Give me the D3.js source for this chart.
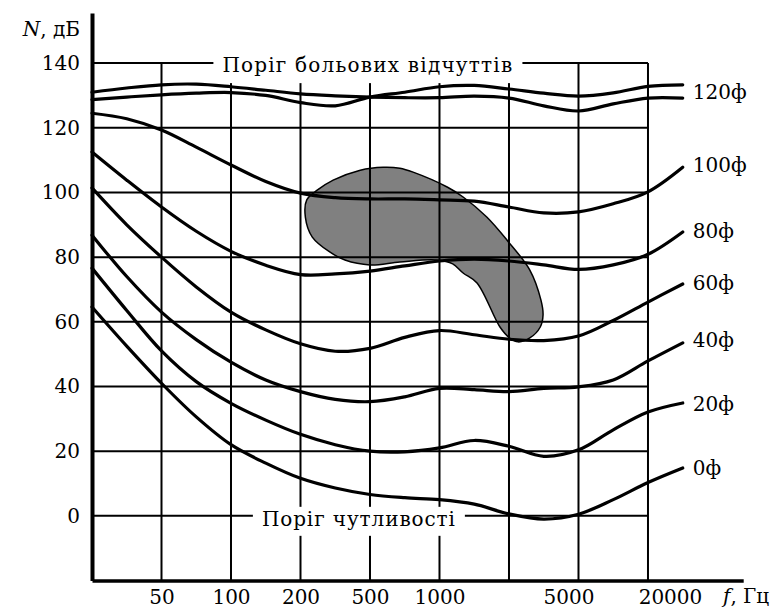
<!DOCTYPE html>
<html>
<head>
<meta charset="utf-8">
<script src="https://cdn.jsdelivr.net/npm/d3@7"></script>
<style>
  body { margin: 0; background: #fff; }
  svg text { font-family: "DejaVu Serif", serif; font-size: 20px; fill: #000; }
</style>
</head>
<body>
<svg width="784" height="608"></svg>
<script>
// x is in grid steps: 0 = left axis, 1..8 = the vertical grid lines
const knots = [0, 0.5, 1, 1.5, 2, 2.5, 3, 3.5, 4, 4.5, 5, 5.5, 6, 6.5, 7, 7.5, 8, 8.5]
const freqTicks = [1, 2, 3, 4, 5, 6, 7, 8]
const freqLabels = ["50", "100", "200", "500", "1000", "", "5000", "20000"]
const levelTicks = [0, 20, 40, 60, 80, 100, 120, 140]

// levels in dB, one value per knot
const pain1 = [131.0, 132.3, 133.3, 133.5, 132.7, 131.6, 130.5, 129.9, 129.5, 129.3, 129.3, 129.8, 129.2, 126.8, 125.2, 127.4, 129.2, 129.2]
const pain2 = [128.7, 129.5, 130.2, 130.7, 130.9, 130.0, 127.8, 126.8, 129.5, 131.0, 132.7, 133.1, 132.0, 130.7, 129.8, 130.8, 132.8, 133.3]
const phon100 = [124.5, 122.8, 119.3, 114.0, 108.5, 103.4, 99.8, 98.4, 98.0, 98.0, 97.7, 97.3, 95.5, 93.7, 94.0, 96.5, 100.2, 107.8]
const phon80 = [112.5, 103.8, 95.5, 88.0, 81.8, 77.5, 74.6, 74.8, 75.7, 77.3, 78.8, 79.4, 78.8, 77.6, 76.2, 77.6, 80.9, 87.8]
const phon60 = [101.4, 90.0, 80.0, 70.8, 63.0, 57.5, 53.2, 50.9, 51.8, 55.2, 57.3, 56.0, 54.6, 54.2, 55.6, 60.4, 66.1, 71.7]
const phon40 = [86.8, 74.0, 63.0, 54.5, 47.5, 42.0, 38.4, 36.0, 35.3, 36.8, 39.4, 39.0, 38.4, 39.4, 39.9, 42.0, 47.9, 53.5]
const phon20 = [76.6, 63.5, 51.0, 41.5, 34.8, 29.6, 25.2, 22.0, 20.0, 19.8, 21.0, 23.3, 21.5, 18.4, 20.4, 26.6, 32.1, 34.9]
const phon0 = [64.6, 52.5, 41.0, 30.6, 22.0, 16.3, 11.6, 8.6, 6.6, 5.6, 5.0, 3.6, 0.6, -1.0, 0.5, 5.0, 10.3, 14.8]

const curveLabels = ["120ф", "100ф", "80ф", "60ф", "40ф", "20ф", "0ф"]
const labelLevels = [131.2, 108.5, 88.2, 72.0, 54.5, 34.6, 14.8]

// grey speech area outline
const areaX = [3.07, 3.09, 3.24, 3.47, 3.86, 4.19, 4.43, 4.62, 5.11, 5.34, 5.68, 5.97, 6.30, 6.46, 6.49, 6.45, 6.30, 6.13, 6.01, 5.87, 5.54, 5.34, 5.19, 4.96, 4.43, 4.00, 3.64, 3.42, 3.17]
const areaY = [92.4, 97.7, 100.7, 103.8, 106.9, 107.8, 107.5, 106.3, 101.7, 98.6, 92.4, 85.3, 76.0, 66.7, 62.1, 58.4, 55.0, 53.8, 55.0, 58.4, 72.0, 75.1, 77.9, 79.1, 78.5, 77.6, 79.1, 81.6, 86.2]

const painText = "Поріг больових відчуттів"
const hearText = "Поріг чутливості"

const svg = d3.select('svg')

const x = d3.scaleLinear().domain([0, 9.37]).range([92, 743.2])
const y = d3.scaleLinear().domain([-20, 155.5]).range([580.5, 13])

// speech area
svg.append('path')
  .datum(areaX.map((d, i) => [d, areaY[i]]))
  .attr('d', d3.line().x(d => x(d[0])).y(d => y(d[1])).curve(d3.curveCatmullRomClosed.alpha(0.5)))
  .attr('fill', '#808080')
  .attr('stroke', '#000')
  .attr('stroke-width', 1.5)

// grid
const grid = svg.append('g').attr('stroke', '#000').attr('stroke-width', 2)
grid.selectAll('.h').data(levelTicks).enter().append('line')
  .attr('x1', x(0)).attr('x2', x(8))
  .attr('y1', d => y(d)).attr('y2', d => y(d))
grid.selectAll('.v').data(freqTicks).enter().append('line')
  .attr('x1', d => x(d)).attr('x2', d => x(d))
  .attr('y1', y(-20)).attr('y2', y(140))

// threshold labels sitting on the grid, with a white box behind
function gridLabel(txt, xv, yv, dy, padB, spacing) {
  const g = svg.append('g')
  const t = g.append('text')
    .attr('x', x(xv)).attr('y', y(yv) + dy)
    .attr('text-anchor', 'middle')
    .attr('letter-spacing', spacing)
    .text(txt)
  const b = t.node().getBBox()
  g.insert('rect', 'text')
    .attr('x', b.x - 9).attr('y', b.y)
    .attr('width', b.width + 18).attr('height', b.height + padB)
    .attr('fill', '#fff')
}
gridLabel(painText, 3.97, 140, 9, 6, 1.2)
gridLabel(hearText, 3.84, 0, 10, 5, 0.9)

// loudness curves
const line = d3.line()
  .x((d, i) => x(knots[i]))
  .y(d => y(d))
  .curve(d3.curveCatmullRom.alpha(0.5))

svg.append('g').selectAll('path')
  .data([pain1, pain2, phon100, phon80, phon60, phon40, phon20, phon0])
  .enter().append('path')
  .attr('d', line)
  .attr('fill', 'none')
  .attr('stroke', '#000')
  .attr('stroke-width', 3.2)
  .attr('stroke-linecap', 'round')

svg.append('g').selectAll('text')
  .data(curveLabels)
  .enter().append('text')
  .attr('x', x(knots[knots.length - 1]) + 10)
  .attr('y', (d, i) => y(labelLevels[i]))
  .attr('dy', '0.35em')
  .text(d => d)

// axes
const yAxis = d3.axisLeft(y).tickValues(levelTicks).tickSize(0).tickSizeOuter(0).tickPadding(12)
const yAxisGroup = svg.append('g').attr('transform', `translate(${x(0)},0)`).call(yAxis)
yAxisGroup.attr('font-family', null).attr('font-size', null)
yAxisGroup.select('.domain').attr('stroke-width', 4)

const xAxis = d3.axisBottom(x).tickValues(freqTicks).tickFormat((d, i) => freqLabels[i])
  .tickSize(0).tickSizeOuter(0).tickPadding(9)
const xAxisGroup = svg.append('g').attr('transform', `translate(0,${y(-20)})`).call(xAxis)
xAxisGroup.attr('font-family', null).attr('font-size', null)
xAxisGroup.select('.domain').attr('stroke-width', 3.5)
xAxisGroup.selectAll('text')
  .attr('dx', (d, i) => freqLabels[i] === "5000" ? -10 : freqLabels[i] === "20000" ? 22 : 0)

// axis titles
const yTitle = svg.append('text').attr('x', 80).attr('y', 36).attr('text-anchor', 'end')
yTitle.append('tspan').attr('font-style', 'italic').text('N')
yTitle.append('tspan').text(', дБ')

const xTitle = svg.append('text').attr('x', 723).attr('y', 603)
xTitle.append('tspan').attr('font-style', 'italic').text('f')
xTitle.append('tspan').text(', Гц')
</script>
</body>
</html>
